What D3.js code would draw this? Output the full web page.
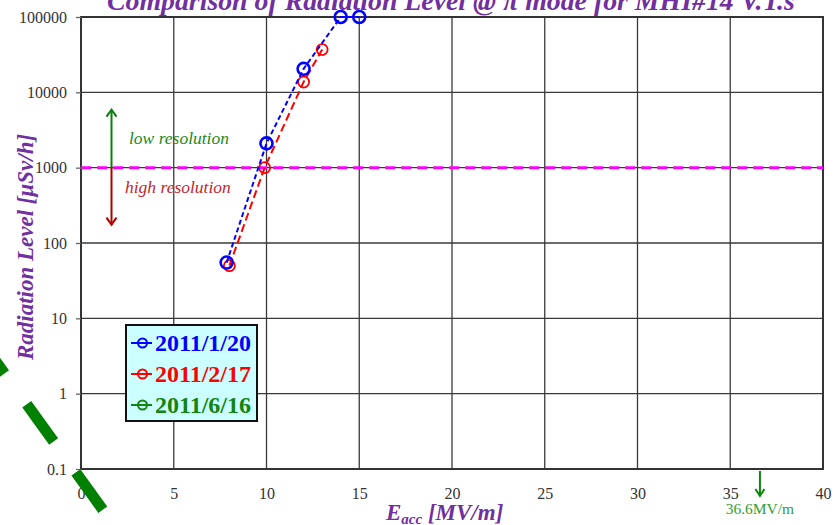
<!DOCTYPE html>
<html><head><meta charset="utf-8">
<script src="https://cdn.jsdelivr.net/npm/d3@7"></script>
<style>html,body{margin:0;padding:0;background:#fff;}svg{display:block;font-family:"Liberation Serif","Times New Roman",serif;}</style>
</head><body>
<svg id="c" width="834" height="525"></svg>
<script>
// ---- data ----
const xTicks = [0,5,10,15,20,25,30,35,40];
const yTicks = [0.1,1,10,100,1000,10000,100000];
const yTickLabels = ["0.1","1","10","100","1000","10000","100000"];
const seriesNames = ["2011/1/20","2011/2/17","2011/6/16"];
const blueX = [7.85,10,12,14,15];
const blueY = [55,2100,20500,100000,100000];
const redX = [8,9.9,12,13];
const redY = [50,1000,13700,37000];
const greenX = [];
const greenY = [];
const thresholdY = 1000;
const limitX = 36.6;
const artifactX = [-5.574, 3.887];
const artifactY = [5.81, 0.00342];

// ---- layout ----
const svg = d3.select("#c");
const x = d3.scaleLinear().domain([0,40]).range([81,823]);
const y = d3.scaleLog().domain([0.1,100000]).range([469,17]);
const gridColor = "#3a3a3a";

// grid
svg.append("g").selectAll("line.v").data(xTicks.slice(1,-1)).join("line")
  .attr("x1",d=>x(d)).attr("x2",d=>x(d)).attr("y1",y(100000)).attr("y2",y(0.1))
  .attr("stroke",gridColor).attr("stroke-width",1.3);
svg.append("g").selectAll("line.h").data(yTicks.slice(1,-1)).join("line")
  .attr("y1",d=>y(d)).attr("y2",d=>y(d)).attr("x1",x(0)).attr("x2",x(40))
  .attr("stroke",gridColor).attr("stroke-width",1.3);

// frame
svg.append("rect").attr("x",x(0)).attr("y",y(100000)).attr("width",x(40)-x(0)).attr("height",y(0.1)-y(100000))
  .attr("fill","none").attr("stroke","#333").attr("stroke-width",2);

// y axis
const yAxis = d3.axisLeft(y).tickValues(yTicks).tickFormat((d,i)=>yTickLabels[i]).tickSize(5).tickPadding(9);
const gy = svg.append("g").attr("transform",`translate(${x(0)},0)`).call(yAxis);
gy.select(".domain").remove();
gy.selectAll(".tick line").attr("stroke","#666").attr("stroke-width",1.3);
gy.selectAll("text").attr("font-family","Liberation Serif, serif").attr("font-size",16).attr("fill","#333");

// x axis
const xAxis = d3.axisBottom(x).tickValues(xTicks).tickFormat(d3.format("d")).tickSize(0).tickPadding(19);
const gx = svg.append("g").attr("transform",`translate(0,${y(0.1)})`).call(xAxis);
gx.select(".domain").remove();
gx.selectAll("text").attr("font-family","Liberation Serif, serif").attr("font-size",16).attr("fill","#333");

// threshold line
svg.append("line").attr("x1",x(0)).attr("x2",x(40)).attr("y1",y(thresholdY)).attr("y2",y(thresholdY))
  .attr("stroke","#ff00ff").attr("stroke-width",3).attr("stroke-dasharray","10,6");

// series
function drawSeries(xs, ys, color, dash, r, sw){
  const pts = xs.map((v,i)=>[v,ys[i]]);
  const line = d3.line().x(d=>x(d[0])).y(d=>y(d[1]));
  svg.append("path").datum(pts).attr("d",line).attr("fill","none")
    .attr("stroke",color).attr("stroke-width",2).attr("stroke-dasharray",dash);
  svg.append("g").selectAll("circle").data(pts).join("circle")
    .attr("cx",d=>x(d[0])).attr("cy",d=>y(d[1])).attr("r",r)
    .attr("fill","none").attr("stroke",color).attr("stroke-width",sw);
}
drawSeries(redX, redY, "#ff0000", "8,4", 5.5, 1.8);
drawSeries(blueX, blueY, "#0000ff", "5,3", 6, 2.6);
drawSeries(greenX, greenY, "#008000", "5,3", 6, 2.2);

// resolution arrows
const ax = 111.5;
const gArrowTop = y(thresholdY) - 58, rArrowBot = y(thresholdY) + 57;
svg.append("line").attr("x1",ax).attr("x2",ax).attr("y1",y(thresholdY)).attr("y2",gArrowTop)
  .attr("stroke","#0b7d0b").attr("stroke-width",2);
svg.append("path").attr("d",`M${ax-5},${gArrowTop+7}L${ax},${gArrowTop}L${ax+5},${gArrowTop+7}`)
  .attr("fill","none").attr("stroke","#0b7d0b").attr("stroke-width",2);
svg.append("line").attr("x1",ax).attr("x2",ax).attr("y1",y(thresholdY)).attr("y2",rArrowBot)
  .attr("stroke","#b00000").attr("stroke-width",2);
svg.append("path").attr("d",`M${ax-5},${rArrowBot-7}L${ax},${rArrowBot}L${ax+5},${rArrowBot-7}`)
  .attr("fill","none").attr("stroke","#b00000").attr("stroke-width",2);
svg.append("text").attr("x",129).attr("y",144).attr("font-size",17.5).attr("font-style","italic")
  .attr("fill","#1a8a1a").text("low resolution");
svg.append("text").attr("x",125).attr("y",193).attr("font-size",17.5).attr("font-style","italic")
  .attr("fill","#c0282d").text("high resolution");

// legend
const lg = svg.append("g");
lg.append("rect").attr("x",126).attr("y",325).attr("width",131).attr("height",96)
  .attr("fill","#ccffff").attr("stroke","#111").attr("stroke-width",2);
const legColors = ["#0000ff","#ff0000","#108510"];
const legY = [343,374,405];
seriesNames.forEach((n,i)=>{
  lg.append("line").attr("x1",131).attr("x2",152).attr("y1",legY[i]).attr("y2",legY[i])
    .attr("stroke",legColors[i]).attr("stroke-width",2);
  lg.append("circle").attr("cx",142.5).attr("cy",legY[i]).attr("r",4.5)
    .attr("fill","none").attr("stroke",legColors[i]).attr("stroke-width",2);
  lg.append("text").attr("x",155).attr("y",legY[i]+8).attr("font-size",24).attr("font-weight","bold")
    .attr("fill",legColors[i]).text(n);
});

// 36.6 MV/m marker
const lx = x(limitX);
svg.append("line").attr("x1",lx).attr("x2",lx).attr("y1",y(0.1)+2).attr("y2",y(0.1)+27)
  .attr("stroke","#0b850b").attr("stroke-width",2);
svg.append("path").attr("d",`M${lx-4.5},${y(0.1)+20}L${lx},${y(0.1)+27}L${lx+4.5},${y(0.1)+20}`)
  .attr("fill","none").attr("stroke","#0b850b").attr("stroke-width",2);
svg.append("text").attr("x",lx).attr("y",514).attr("text-anchor","middle").attr("font-size",15.5)
  .attr("fill","#33a033").text("36.6MV/m");

// stray green dashed stroke
svg.append("path").datum(artifactX.map((v,i)=>[v,artifactY[i]]))
  .attr("d",d3.line().x(d=>x(d[0])).y(d=>y(d[1])))
  .attr("stroke","#008000").attr("stroke-width",11).attr("stroke-dasharray","46,38").attr("fill","none");

// titles
svg.append("text").attr("x",107).attr("y",9.5).attr("font-size",27.8).attr("font-weight","bold")
  .attr("font-style","italic").attr("fill","#7030a0").text("Comparison of Radiation Level @ π mode for MHI#14 V.T.s");
svg.append("text").attr("transform","translate(33,247) rotate(-90)").attr("text-anchor","middle")
  .attr("font-size",23).attr("font-weight","bold").attr("font-style","italic").attr("fill","#7030a0")
  .text("Radiation Level [μSv/h]");
const xl = svg.append("text").attr("x",386).attr("y",520).attr("font-size",23).attr("font-weight","bold")
  .attr("font-style","italic").attr("fill","#7030a0");
xl.append("tspan").text("E");
xl.append("tspan").attr("font-size",15).attr("dy",4).text("acc");
xl.append("tspan").attr("dy",-4).text(" [MV/m]");
</script>
</body></html>
